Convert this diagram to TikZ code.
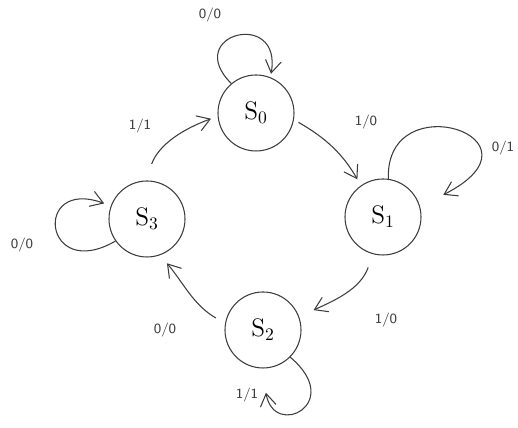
\documentclass[tikz,border=0pt]{standalone}
\usetikzlibrary{arrows.meta}
\begin{document}
\begin{tikzpicture}[x=0.02cm,y=0.02cm,
	state/.style={draw=mygray, semithick, circle, minimum size=76*0.02cm, inner sep=0pt, font=\Large},
	lbl/.style={font=\sffamily\footnotesize, text=mygray},
	arr/.style={draw=mygray, semithick, -{Straight Barb[length=7pt,width=9pt]}, shorten >=4pt}]
	\definecolor{mygray}{RGB}{60,60,60}
	\useasboundingbox (0,0) rectangle (518,428);
	% states
	\node[state] (S0) at (256,315) {S$_0$};
	\node[state] (S1) at (383,211) {S$_1$};
	\node[state] (S2) at (263,98) {S$_2$};
	\node[state] (S3) at (147,209) {S$_3$};
	% self loops
	\draw[arr, shorten >=2pt] (S0.130) to[out=135,in=80,looseness=4.5] (S0.68);
	\draw[arr] (S1.82) .. controls (385,345) and (555,290) .. (437,230);
	\draw[arr] (S3.215) to[out=210,in=160,looseness=6] (S3.160);
	\draw[arr, shorten >=14pt] (S2.315) to[out=-40,in=-80,looseness=6] (S2.268);
	% transitions
	\draw[arr, shorten <=3pt] (S0.-10) to[out=-30,in=120] (S1.125);
	\draw[arr, shorten <=8pt, shorten >=9pt] (S1.255) to[out=-110,in=25] (S2.20);
	\draw[arr, shorten <=6pt, shorten >=6pt] (S2.170) to[out=150,in=-50] (S3.-70);
	\draw[arr, shorten <=10pt] (S3.92) to[out=70,in=200] (S0.185);
	% labels
	\node[lbl] (l00a) at (210,413) {0/0};
	\node[lbl] (l10a) at (366,306) {1/0};
	\node[lbl] (l01) at (503,280) {0/1};
	\node[lbl] (l11a) at (140,302) {1/1};
	\node[lbl] (l00b) at (22,183) {0/0};
	\node[lbl] (l10b) at (386,108) {1/0};
	\node[lbl] (l00c) at (165,98) {0/0};
	\node[lbl] (l11b) at (247,33) {1/1};
\end{tikzpicture}
\end{document}
